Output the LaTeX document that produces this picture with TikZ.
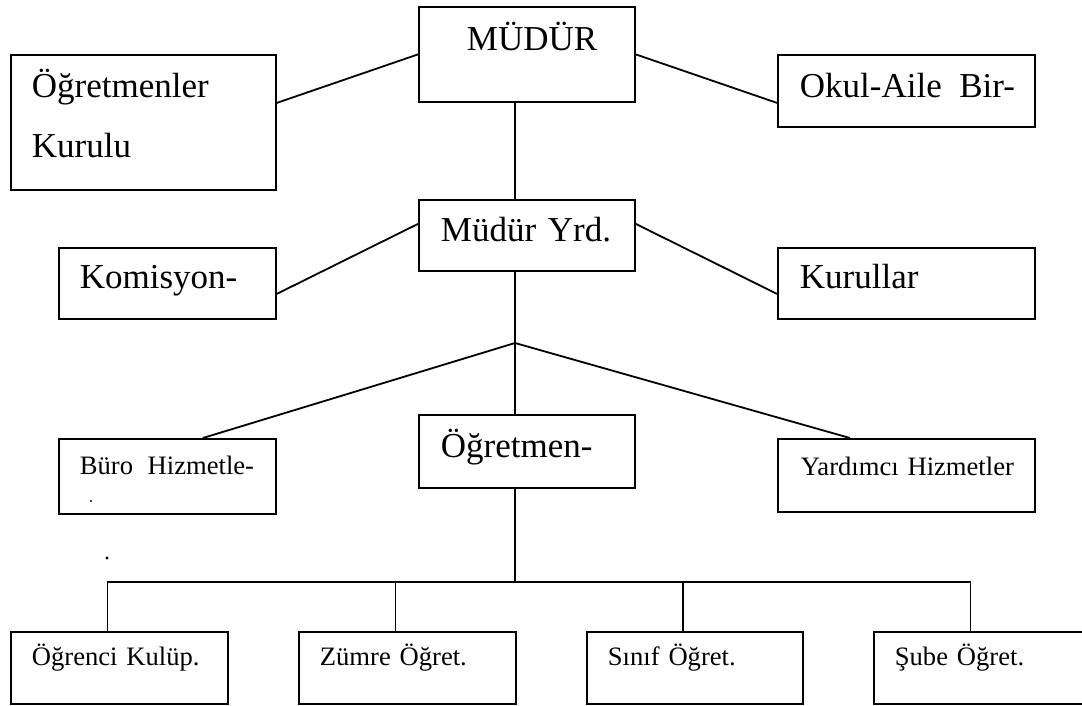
\documentclass[tikz,border=0pt]{standalone}
\usepackage{fontspec}
\setmainfont{Liberation Serif}
\tikzset{
	orgbox/.style={draw, line width=1.8pt, inner ysep=0pt, anchor=north west, align=left},
	bigtext/.style={font=\fontsize{35}{60}\selectfont},
	smalltext/.style={font=\fontsize{26.6}{30}\selectfont},
	link/.style={line width=1.8pt}
}
\begin{document}
\begin{tikzpicture}[x=1pt, y=-1pt]
	\useasboundingbox[fill=white] (0, 0) rectangle (1082, 706);
	% upper levels
	\node[orgbox, bigtext, inner xsep=48pt, text width=120pt, text height=44pt, text depth=51pt] (mudur) at (418, 6) {MÜDÜR};
	\node[orgbox, bigtext, inner xsep=21pt, text width=223pt, text height=43pt, text depth=92pt] (kurul) at (10, 54) {Öğretmenler\\Kurulu};
	\node[orgbox, bigtext, inner xsep=22pt, text width=213pt, text height=43pt, text depth=29pt] (okul) at (777, 54) {\mbox{Okul-Aile\hspace{0.5em}Bir-}};
	\node[orgbox, bigtext, inner xsep=22pt, text width=172pt, text height=42pt, text depth=29pt] (yrd) at (418, 199) {Müdür~Yrd.};
	\node[orgbox, bigtext, inner xsep=21pt, text width=175pt, text height=41pt, text depth=30pt] (komisyon) at (58, 247) {Komisyon-};
	\node[orgbox, bigtext, inner xsep=22pt, text width=213pt, text height=41pt, text depth=30pt] (kurullar) at (777, 247) {Kurullar};
	% services
	\node[orgbox, smalltext, inner xsep=21pt, text width=175pt, text height=36pt, text depth=39pt] (buro) at (58, 438) {\mbox{Büro\hspace{0.55em}Hizmetle-}};
	\node[orgbox, bigtext, inner xsep=22pt, text width=172pt, text height=43pt, text depth=30pt] (ogretmen) at (418, 414) {Öğretmen-};
	\node[orgbox, smalltext, inner xsep=23pt, text width=211pt, text height=37pt, text depth=36pt] (yardimci) at (777, 438) {\mbox{Yardımcı Hizmetler}};
	% bottom row
	\node[orgbox, smalltext, inner xsep=21pt, text width=175pt, text height=34pt, text depth=38pt] (ogrenci) at (10, 631) {\mbox{Öğrenci Kulüp.}};
	\node[orgbox, smalltext, inner xsep=21pt, text width=175pt, text height=34pt, text depth=38pt] (zumre) at (298, 631) {\mbox{Zümre Öğret.}};
	\node[orgbox, smalltext, inner xsep=21pt, text width=174pt, text height=34pt, text depth=38pt] (sinif) at (586, 631) {\mbox{Sınıf Öğret.}};
	\node[orgbox, smalltext, inner xsep=21pt, text width=175pt, text height=34pt, text depth=38pt] (sube) at (873, 631) {\mbox{Şube Öğret.}};
	\coordinate (split) at (515, 343);
	\coordinate (bus) at (515, 582);
	% connectors
	\draw[link] (mudur.west) -- ([yshift=19.5pt]kurul.east);
	\draw[link] (mudur.east) -- ([yshift=-12pt]okul.west);
	\draw[link] (mudur.south -| split) -- (yrd.north -| split);
	\draw[link] ([yshift=11.5pt]yrd.west) -- ([yshift=-10.5pt]komisyon.east);
	\draw[link] ([yshift=11.5pt]yrd.east) -- ([yshift=-10.5pt]kurullar.west);
	\draw[link] (yrd.south -| split) -- (split);
	\draw[link] (split) -- ([xshift=35.5pt]buro.north);
	\draw[link] (split) -- (ogretmen.north -| split);
	\draw[link] (split) -- ([xshift=-56.5pt]yardimci.north);
	\draw[link] (ogretmen.south -| split) -- (bus);
	\draw[link] ([xshift=-12pt]ogrenci.north) |- (bus) -| ([xshift=-12pt]sube.north);
	\draw[link] ([xshift=-12pt]zumre.north) -- ([xshift=-12pt]zumre.north |- bus);
	\draw[link] ([xshift=-12pt]sinif.north) -- ([xshift=-12pt]sinif.north |- bus);
	% stray dots
	\fill (91, 501) circle (1.2);
	\fill (107, 558) circle (1.6);
\end{tikzpicture}
\end{document}
